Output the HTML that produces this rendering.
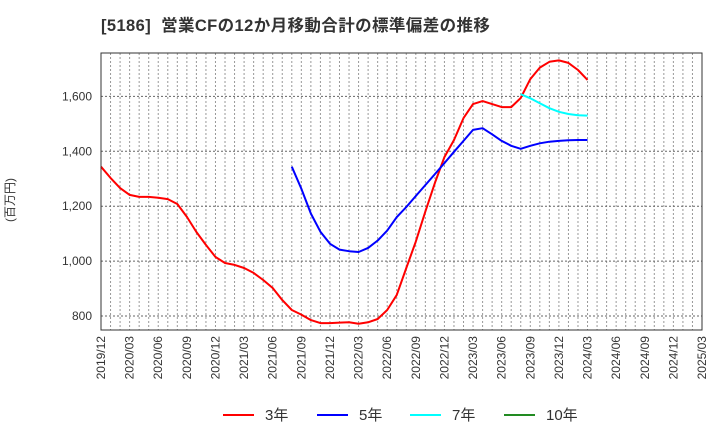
<!DOCTYPE html>
<html><head><meta charset="utf-8"><style>
body{margin:0;background:#fff;}
svg{display:block;font-family:"Liberation Sans","Noto Sans CJK JP",sans-serif;}
</style></head><body>
<svg id="chart" width="720" height="440" xmlns="http://www.w3.org/2000/svg">
<text x="101" y="31" font-size="16.5" font-weight="bold" fill="#333" letter-spacing="0.4" xml:space="preserve">[5186]  営業CFの12か月移動合計の標準偏差の推移</text>
<text transform="translate(14,200) rotate(-90)" font-size="12" fill="#333" text-anchor="middle">(百万円)</text>
<g id="grid"></g><g id="ylabels"></g><g id="xlabels"></g><g id="series"></g>
<rect x="101" y="53" width="601" height="277" fill="none" stroke="#333" stroke-width="1"/>
<g id="legend"></g>
</svg>
<script>
const yTicks=[800,1000,1200,1400,1600];
const xTickLabels=["2019/12","2020/03","2020/06","2020/09","2020/12","2021/03","2021/06","2021/09","2021/12","2022/03","2022/06","2022/09","2022/12","2023/03","2023/06","2023/09","2023/12","2024/03","2024/06","2024/09","2024/12","2025/03"];
const s3=[1344,1303,1266,1241,1234,1234,1231,1226,1208,1161,1106,1059,1015,993,986,975,957,931,902,858,822,805,785,774,774,776,777,772,777,789,822,876,975,1071,1180,1285,1379,1441,1521,1572,1583,1572,1561,1561,1594,1663,1705,1726,1731,1722,1696,1660];
const s5=[1344,1264,1173,1107,1063,1042,1036,1033,1048,1075,1111,1160,1197,1237,1277,1317,1357,1398,1438,1478,1484,1462,1438,1420,1409,1420,1429,1435,1438,1440,1441,1441];
const s5Start=20;
const s7=[1608,1593,1575,1557,1544,1536,1531,1530];
const s7Start=44;
const s10=[];
const NS="http://www.w3.org/2000/svg";
const X0=101,X1=702,Y0=330,months=63;
const xs=m=>X0+(X1-X0)*m/months;
const ys=v=>316-(v-800)*54.9/200;
function mk(t,a,p){const e=document.createElementNS(NS,t);for(const k in a)e.setAttribute(k,a[k]);p.appendChild(e);return e;}
const grid=document.getElementById('grid');
for(let m=1;m<months;m++){const l=mk('line',{x1:xs(m),x2:xs(m),y1:53,y2:330,stroke:'#999','stroke-dasharray':'2,2','stroke-width':1},grid);

}
const yl=document.getElementById('ylabels');
yTicks.forEach(v=>{const l=mk('line',{x1:101,x2:702,y1:ys(v),y2:ys(v),stroke:'#666','stroke-dasharray':'2,2','stroke-width':1},grid);


const t=mk('text',{x:92,y:ys(v)+4,'font-size':12,fill:'#333','text-anchor':'end'},yl);t.textContent=v.toLocaleString('en-US');

});
const xl=document.getElementById('xlabels');
xTickLabels.forEach((s,i)=>{const x=xs(i*3);const t=mk('text',{transform:`translate(${x+4},336) rotate(-90)`,'font-size':12,fill:'#333','text-anchor':'end'},xl);t.textContent=s;

});
const sg=document.getElementById('series');
function line(data,start,color,name){if(!data.length)return;const pts=data.map((v,i)=>xs(start+i).toFixed(1)+','+ys(v).toFixed(1)).join(' ');
const p=mk('polyline',{points:pts,fill:'none',stroke:color,'stroke-width':2,'stroke-linejoin':'round'},sg);

}
line(s3,0,'#ff0000','series-3y');
line(s5,s5Start,'#0000ff','series-5y');
line(s7,s7Start,'#00ffff','series-7y');
line(s10,0,'#228b22','series-10y');
const lg=document.getElementById('legend');
[['3年','#ff0000',223],['5年','#0000ff',317],['7年','#00ffff',410],['10年','#228b22',504]].forEach(([n,c,x])=>{
const l=mk('line',{x1:x,x2:x+31,y1:415,y2:415,stroke:c,'stroke-width':2},lg);


const t=mk('text',{x:x+42,y:420,'font-size':15,fill:'#333'},lg);t.textContent=n;

});
</script>
</body></html>
